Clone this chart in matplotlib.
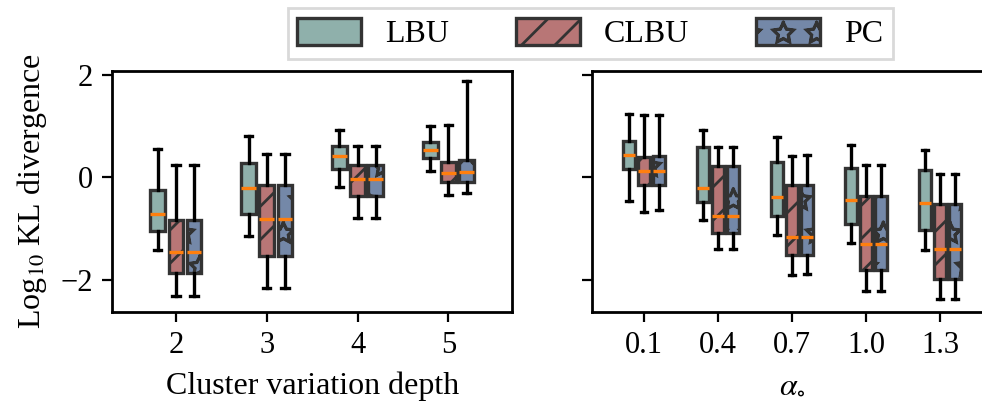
import matplotlib
matplotlib.use("Agg")
import matplotlib.pyplot as plt
import matplotlib.hatch as mhatch
from matplotlib.patches import Patch
import numpy as np

plt.rcParams["font.family"] = ["Liberation Serif", "DejaVu Serif"]
plt.rcParams["mathtext.fontset"] = "stix"
plt.rcParams["hatch.linewidth"] = 1.0
plt.rcParams["hatch.color"] = "black"


# star hatch drawn as outlines instead of filled stars
class OutlineStars(mhatch.Stars):
    filled = False


mhatch._hatch_types[:] = [OutlineStars if t is mhatch.Stars else t for t in mhatch._hatch_types]

methods = ["LBU", "CLBU", "PC"]
colors = ["#8fb0ab", "#b87676", "#7488a8"]
hatches = ["", "//", "*"]

# left panel: cluster variation depth
depth_labels = ["2", "3", "4", "5"]
depth_stats = {
    "LBU": dict(whishi=[0.56, 0.80, 0.92, 1.01], q3=[-0.25, 0.28, 0.61, 0.69],
                med=[-0.72, -0.20, 0.41, 0.53], q1=[-1.04, -0.71, 0.17, 0.38],
                whislo=[-1.42, -1.15, -0.18, 0.13]),
    "CLBU": dict(whishi=[0.25, 0.46, 0.61, 1.02], q3=[-0.84, -0.14, 0.24, 0.30],
                 med=[-1.45, -0.81, -0.03, 0.08], q1=[-1.87, -1.53, -0.37, -0.10],
                 whislo=[-2.31, -2.16, -0.79, -0.35]),
    "PC": dict(whishi=[0.25, 0.46, 0.61, 1.87], q3=[-0.84, -0.14, 0.24, 0.33],
               med=[-1.45, -0.81, -0.03, 0.10], q1=[-1.87, -1.53, -0.37, -0.10],
               whislo=[-2.31, -2.16, -0.79, -0.31]),
}

# right panel: alpha
alpha_labels = ["0.1", "0.4", "0.7", "1.0", "1.3"]
alpha_stats = {
    "LBU": dict(whishi=[1.24, 0.92, 0.79, 0.64, 0.54], q3=[0.70, 0.59, 0.29, 0.19, 0.14],
                med=[0.44, -0.20, -0.38, -0.44, -0.50], q1=[0.16, -0.49, -0.76, -0.91, -1.03],
                whislo=[-0.47, -0.83, -1.12, -1.28, -1.41]),
    "CLBU": dict(whishi=[1.21, 0.60, 0.42, 0.25, 0.07], q3=[0.40, 0.23, -0.14, -0.37, -0.51],
                 med=[0.12, -0.75, -1.16, -1.30, -1.39], q1=[-0.14, -1.08, -1.52, -1.80, -1.99],
                 whislo=[-0.67, -1.40, -1.90, -2.22, -2.38]),
    "PC": dict(whishi=[1.21, 0.60, 0.44, 0.25, 0.07], q3=[0.41, 0.23, -0.14, -0.37, -0.51],
               med=[0.12, -0.75, -1.16, -1.30, -1.39], q1=[-0.14, -1.08, -1.52, -1.80, -1.99],
               whislo=[-0.63, -1.40, -1.89, -2.22, -2.38]),
}


def draw_panel(ax, labels, stats):
    n = len(labels)
    x = np.arange(n)
    for i, m in enumerate(methods):
        s = stats[m]
        bxp_stats = [dict(med=s["med"][k], q1=s["q1"][k], q3=s["q3"][k],
                          whislo=s["whislo"][k], whishi=s["whishi"][k], fliers=[])
                     for k in range(n)]
        bp = ax.bxp(bxp_stats, positions=x + (i - 1) * 0.2, widths=0.16,
                    patch_artist=True, showfliers=False, manage_ticks=False,
                    medianprops=dict(color="#ff7f0e", lw=1.2),
                    whiskerprops=dict(color="black", lw=1.2),
                    capprops=dict(color="black", lw=1.2))
        for b in bp["boxes"]:
            b.set_facecolor(colors[i])
            b.set_edgecolor("#333333")
            b.set_linewidth(1.2)
            b.set_hatch(hatches[i])
    ax.set_xticks(x)
    ax.set_xticklabels(labels)
    ax.set_xlim(-0.7, n - 0.3)


fig = plt.figure(figsize=(4.91, 2.005), dpi=200)
ax1 = fig.add_axes([0.1144, 0.2227, 0.407, 0.601])
ax2 = fig.add_axes([0.6029, 0.2227, 0.4073, 0.601], sharey=ax1)

draw_panel(ax1, depth_labels, depth_stats)
draw_panel(ax2, alpha_labels, alpha_stats)

ax1.set_ylim(-2.62, 2.08)
ax1.set_yticks([-2, 0, 2])
ax2.tick_params(labelleft=False)
for ax in (ax1, ax2):
    ax.tick_params(labelsize=11)
    for sp in ax.spines.values():
        sp.set_linewidth(1.0)

ax1.set_ylabel("Log$_{10}$ KL divergence", fontsize=11.5)
ax1.set_xlabel("Cluster variation depth", fontsize=11.5)
ax2.set_xlabel(r"$\alpha_{\circ}$", fontsize=11.5)

handles = [Patch(facecolor=colors[i], edgecolor="#333333", hatch=hatches[i], lw=1.2, label=m)
           for i, m in enumerate(methods)]
fig.legend(handles=handles, loc="upper center", bbox_to_anchor=(0.601, 0.98), ncol=3,
           fontsize=11.5, handleheight=0.95, handlelength=2.0, handletextpad=0.75,
           columnspacing=2.1, borderaxespad=0, borderpad=0.3, fancybox=False,
           edgecolor="#d9d9d9", framealpha=1.0)

fig.savefig("out.png", dpi=200)
